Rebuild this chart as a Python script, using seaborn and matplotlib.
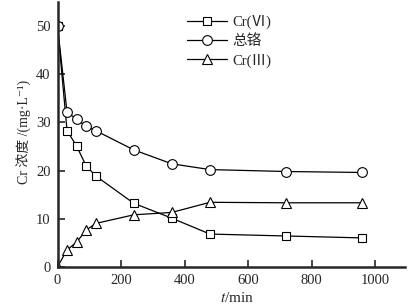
import pandas as pd
import seaborn as sns
import matplotlib.pyplot as plt

# sampling times (min)
times = [0, 30, 60, 90, 120, 240, 360, 480, 720, 960]
# concentrations (mg/L)
cr6 = [50.0, 28.3, 25.1, 21.0, 18.9, 13.2, 10.1, 6.8, 6.4, 6.0]
cr_total = [50.0, 32.1, 30.7, 29.2, 28.3, 24.3, 21.4, 20.2, 19.8, 19.6]
cr3 = [0.0, 3.5, 5.1, 7.6, 9.0, 10.8, 11.3, 13.4, 13.3, 13.3]

series_names = ["Cr(Ⅵ)", "总铬", "Cr(Ⅲ)"]
x_ticks = [0, 200, 400, 600, 800, 1000]
y_ticks = [0, 10, 20, 30, 40, 50]

sns.set_style("ticks")
plt.rcParams['font.family'] = ['Liberation Serif', 'Noto Sans CJK SC', 'DejaVu Serif']
plt.rcParams['mathtext.fontset'] = 'stix'

df = pd.DataFrame({"t": times * 3,
                   "c": cr6 + cr_total + cr3,
                   "s": [series_names[0]] * len(times) + [series_names[1]] * len(times)
                   + [series_names[2]] * len(times)})

fig = plt.figure(figsize=(4.12, 3.07), dpi=100)
ax = fig.add_axes([0.1396, 0.131, 0.844, 0.862])

markers = {"Cr(Ⅵ)": "s", "总铬": "o", "Cr(Ⅲ)": "^"}
sizes = {"Cr(Ⅵ)": 5.5, "总铬": 7, "Cr(Ⅲ)": 7.5}
for name in series_names:
    sub = df[df["s"] == name]
    sns.lineplot(data=sub, x="t", y="c", ax=ax, color="black", lw=0.9,
                 marker=markers[name], markersize=sizes[name],
                 markerfacecolor="white", markeredgecolor="black",
                 markeredgewidth=0.8, label=name)

ax.set_xlim(0, 1095)
ax.set_ylim(0, 55)
ax.set_xticks(x_ticks)
ax.set_yticks(y_ticks)
ax.tick_params(direction="in", length=5, width=1.2, labelsize=10.5, pad=5)
for side in ["top", "right"]:
    ax.spines[side].set_visible(False)
for side in ["left", "bottom"]:
    ax.spines[side].set_linewidth(1.8)

ax.set_xlabel("$t$/min", fontsize=11)
ax.set_ylabel("Cr 浓度 /(mg·L⁻¹)", fontsize=10)
ax.yaxis.set_label_coords(-0.072, 0.51)
ax.xaxis.set_label_coords(0.517, -0.09)

ax.legend(loc="upper left", bbox_to_anchor=(0.335, 1.0), frameon=False,
          fontsize=10.5, handlelength=2.7, labelspacing=0.35, handletextpad=0.4)

fig.savefig("out.png", dpi=100)
